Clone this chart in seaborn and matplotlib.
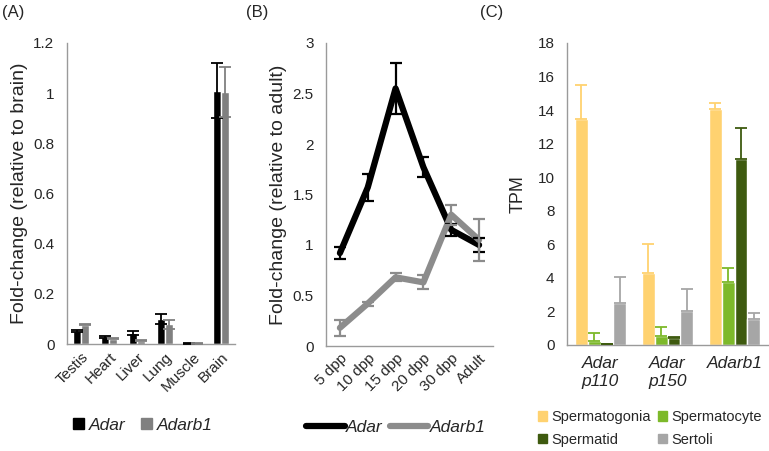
import numpy as np
import pandas as pd
import matplotlib
matplotlib.use("Agg")
import matplotlib.pyplot as plt
from matplotlib.ticker import FuncFormatter
from matplotlib.patches import Patch
from matplotlib.lines import Line2D
import seaborn as sns

# ---- Panel A: tissue expression, relative to brain
TISSUES = ["Testis", "Heart", "Liver", "Lung", "Muscle", "Brain"]
ADAR_TISSUE = [0.050, 0.027, 0.042, 0.100, 0.002, 1.010]
ADAR_TISSUE_ERR = [0.004, 0.003, 0.008, 0.020, 0.001, 0.110]
ADARB1_TISSUE = [0.077, 0.020, 0.012, 0.078, 0.002, 1.005]
ADARB1_TISSUE_ERR = [0.003, 0.002, 0.002, 0.017, 0.001, 0.100]

# ---- Panel B: development time course, relative to adult
STAGES = ["5 dpp", "10 dpp", "15 dpp", "20 dpp", "30 dpp", "Adult"]
ADAR_DEV = [0.92, 1.57, 2.55, 1.77, 1.15, 1.00]
ADAR_DEV_ERR = [0.06, 0.13, 0.25, 0.10, 0.06, 0.07]
ADARB1_DEV = [0.18, 0.42, 0.68, 0.63, 1.30, 1.05]
ADARB1_DEV_ERR = [0.08, 0.02, 0.04, 0.07, 0.10, 0.21]

# ---- Panel C: TPM by cell type
GENES = ["Adar\np110", "Adar\np150", "Adarb1"]
CELLS = ["Spermatogonia", "Spermatocyte", "Spermatid", "Sertoli"]
TPM_SPERMATOGONIA = [13.45, 4.30, 14.05]
TPM_SPERMATOCYTE = [0.25, 0.55, 3.75]
TPM_SPERMATID = [0.05, 0.40, 11.10]
TPM_SERTOLI = [2.50, 2.05, 1.55]
ERR_SPERMATOGONIA = [2.05, 1.70, 0.35]
ERR_SPERMATOCYTE = [0.45, 0.50, 0.85]
ERR_SPERMATID = [0.00, 0.05, 1.85]
ERR_SERTOLI = [1.55, 1.30, 0.35]

CELL_COLORS = ["#FFD270", "#7DB92A", "#3E5A0F", "#A6A6A6"]
GENE_COLORS = {"Adar": "#000000", "Adarb1": "#808080"}
LINE_COLORS = {"Adar": "#000000", "Adarb1": "#8C8C8C"}
AXIS_GRAY = "#9A9A9A"

sns.set_style("white")
plt.rcParams["font.family"] = ["Liberation Sans", "DejaVu Sans"]
plt.rcParams["font.size"] = 10.5

fig = plt.figure(figsize=(7.69, 4.51), dpi=100)
W, H = 769.0, 451.0


def px_axes(left, top, right, bottom):
    return fig.add_axes([left / W, 1 - bottom / H, (right - left) / W, (bottom - top) / H])


def style_axes(ax, n_cat):
    for side in ["top", "right"]:
        ax.spines[side].set_visible(False)
    for side in ["left", "bottom"]:
        ax.spines[side].set_color(AXIS_GRAY)
        ax.spines[side].set_linewidth(1.0)
    ax.set_xlim(-0.5, n_cat - 0.5)
    # ticks sit on the category boundaries
    ax.set_xticks(np.arange(-0.5, n_cat, 1.0), minor=True)
    ax.tick_params(axis="x", which="minor", direction="out", length=5, color=AXIS_GRAY, width=1)
    ax.tick_params(axis="x", which="major", length=0, pad=4)
    ax.tick_params(axis="y", direction="out", length=5, color=AXIS_GRAY, width=1,
                   labelsize=11, pad=4)
    ax.set_xlabel("")


def add_bar_errors(ax, errs_by_hue, colors, upper_only=False):
    for container, errs, col in zip(ax.containers, errs_by_hue, colors):
        xs = [p.get_x() + p.get_width() / 2 for p in container.patches]
        ys = [p.get_height() for p in container.patches]
        yerr = [np.zeros(len(errs)), errs] if upper_only else errs
        ax.errorbar(xs, ys, yerr=yerr, fmt="none", ecolor=col, elinewidth=1.3,
                    capsize=4, capthick=1.3, zorder=3)


num_fmt = FuncFormatter(lambda v, _: f"{v:g}")

# ---------------- Panel A ----------------
axA = px_axes(67, 43, 235, 344)
dfA = pd.DataFrame({
    "tissue": TISSUES * 2,
    "value": ADAR_TISSUE + ADARB1_TISSUE,
    "gene": ["Adar"] * len(TISSUES) + ["Adarb1"] * len(TISSUES),
})
sns.barplot(data=dfA, x="tissue", y="value", hue="gene", palette=GENE_COLORS,
            errorbar=None, width=0.58, saturation=1, legend=False, ax=axA)
add_bar_errors(axA, [ADAR_TISSUE_ERR, ADARB1_TISSUE_ERR],
               [GENE_COLORS["Adar"], GENE_COLORS["Adarb1"]])
style_axes(axA, len(TISSUES))
axA.set_ylim(0, 1.2)
axA.set_yticks(np.arange(0, 1.21, 0.2))
axA.yaxis.set_major_formatter(num_fmt)
axA.set_xticklabels(TISSUES, rotation=45, ha="right", rotation_mode="anchor", fontsize=11)
axA.set_ylabel("Fold-change (relative to brain)", fontsize=14, labelpad=4)
axA.legend(handles=[Patch(color=GENE_COLORS["Adar"]), Patch(color=GENE_COLORS["Adarb1"])],
           labels=["Adar", "Adarb1"], prop={"style": "italic", "size": 12.5},
           loc="center", bbox_to_anchor=(143 / W, 1 - 425 / H),
           bbox_transform=fig.transFigure, ncol=2, frameon=False,
           handlelength=0.6, handleheight=0.6, handletextpad=0.3, columnspacing=0.9)

# ---------------- Panel B ----------------
axB = px_axes(326, 43, 493, 346)
dfB = pd.DataFrame({
    "stage": STAGES * 2,
    "value": ADAR_DEV + ADARB1_DEV,
    "gene": ["Adar"] * len(STAGES) + ["Adarb1"] * len(STAGES),
})
sns.lineplot(data=dfB, x="stage", y="value", hue="gene", palette=LINE_COLORS,
             sort=False, linewidth=4.5, legend=False, ax=axB)
for vals, errs, gene in [(ADAR_DEV, ADAR_DEV_ERR, "Adar"), (ADARB1_DEV, ADARB1_DEV_ERR, "Adarb1")]:
    axB.errorbar(STAGES, vals, yerr=errs, fmt="none", ecolor=LINE_COLORS[gene],
                 elinewidth=1.6, capsize=4.5, capthick=1.6, zorder=3)
style_axes(axB, len(STAGES))
axB.set_ylim(0, 3)
axB.set_yticks(np.arange(0, 3.01, 0.5))
axB.yaxis.set_major_formatter(num_fmt)
axB.set_xticks(range(len(STAGES)))
axB.set_xticklabels(STAGES, rotation=45, ha="right", rotation_mode="anchor", fontsize=11)
axB.set_ylabel("Fold-change (relative to adult)", fontsize=14, labelpad=4)
axB.legend(handles=[Line2D([], [], color=LINE_COLORS["Adar"], lw=4.5),
                    Line2D([], [], color=LINE_COLORS["Adarb1"], lw=4.5)],
           labels=["Adar", "Adarb1"], prop={"style": "italic", "size": 12.5},
           loc="center", bbox_to_anchor=(396 / W, 1 - 427 / H),
           bbox_transform=fig.transFigure, ncol=2, frameon=False,
           handlelength=2.2, handletextpad=0.1, columnspacing=0.4)

# ---------------- Panel C ----------------
axC = px_axes(567, 43, 768, 345)
tpm = [TPM_SPERMATOGONIA, TPM_SPERMATOCYTE, TPM_SPERMATID, TPM_SERTOLI]
dfC = pd.DataFrame({
    "gene": GENES * len(CELLS),
    "tpm": sum(tpm, []),
    "cell": [c for c in CELLS for _ in GENES],
})
sns.barplot(data=dfC, x="gene", y="tpm", hue="cell", hue_order=CELLS,
            palette=CELL_COLORS, errorbar=None, width=0.76, saturation=1,
            legend=False, ax=axC)
add_bar_errors(axC, [ERR_SPERMATOGONIA, ERR_SPERMATOCYTE, ERR_SPERMATID, ERR_SERTOLI],
               CELL_COLORS, upper_only=True)
style_axes(axC, len(GENES))
axC.set_ylim(0, 18)
axC.set_yticks(np.arange(0, 18.1, 2))
axC.yaxis.set_major_formatter(num_fmt)
axC.set_xticks(range(len(GENES)))
axC.set_xticklabels(GENES, fontsize=12.5, style="italic", linespacing=1.25)
axC.tick_params(axis="x", which="major", pad=8)
axC.set_ylabel("TPM", fontsize=13, labelpad=8)
# row-wise order: Spermatogonia, Spermatocyte / Spermatid, Sertoli
order = [0, 2, 1, 3]
axC.legend(handles=[Patch(color=CELL_COLORS[i]) for i in order],
           labels=[CELLS[i] for i in order],
           prop={"size": 10.5}, loc="center", bbox_to_anchor=(650 / W, 1 - 428.5 / H),
           bbox_transform=fig.transFigure, ncol=2, frameon=False,
           handlelength=0.6, handleheight=0.6, handletextpad=0.3, columnspacing=0.5,
           labelspacing=0.6)

# panel letters
for label, x in [("(A)", 2), ("(B)", 246), ("(C)", 480)]:
    fig.text(x / W, 1 - 12 / H, label, fontsize=12, va="center", ha="left")

fig.savefig("out.png", dpi=100)
